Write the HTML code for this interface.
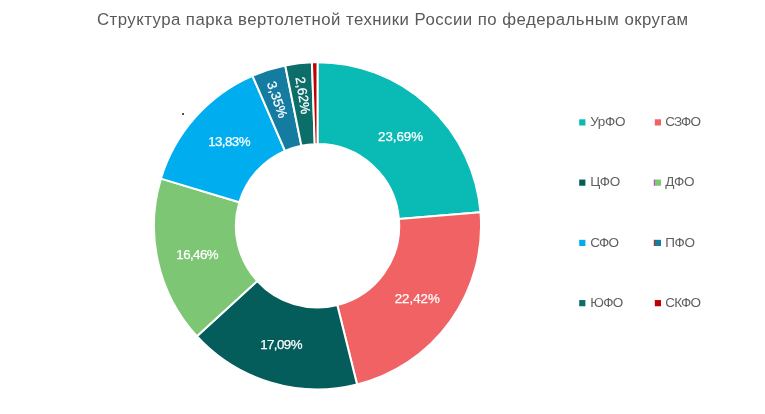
<!DOCTYPE html>
<html><head><meta charset="utf-8"><style>
html,body{margin:0;padding:0;background:#fff;}
body{width:765px;height:414px;overflow:hidden;}
svg{display:block;font-family:"Liberation Sans",sans-serif;}
.t{font-size:16.8px;fill:#595959;}
.dl text{font-size:13.3px;fill:#fff;stroke:#fff;stroke-width:0.25px;}
.lg{font-size:13.5px;fill:#606060;letter-spacing:-0.35px;}
</style></head><body>
<svg width="765" height="414" viewBox="0 0 765 414">
<rect width="765" height="414" fill="#fff"/>
<text class="t" x="392.5" y="25" text-anchor="middle" textLength="591" lengthAdjust="spacing">Структура парка вертолетной техники России по федеральным округам</text>
<g>
<path d="M317.50 62.25A163.55 163.55 0 0 1 480.50 212.35L398.92 219.08A81.7 81.7 0 0 0 317.50 144.10Z" fill="#0ABAB5" stroke="#fff" stroke-width="2" stroke-linejoin="round"/>
<path d="M480.50 212.35A163.55 163.55 0 0 1 357.08 384.49L337.27 305.07A81.7 81.7 0 0 0 398.92 219.08Z" fill="#F06263" stroke="#fff" stroke-width="2" stroke-linejoin="round"/>
<path d="M357.08 384.49A163.55 163.55 0 0 1 196.88 336.25L257.25 280.97A81.7 81.7 0 0 0 337.27 305.07Z" fill="#045D5B" stroke="#fff" stroke-width="2" stroke-linejoin="round"/>
<path d="M196.88 336.25A163.55 163.55 0 0 1 160.91 178.59L239.28 202.22A81.7 81.7 0 0 0 257.25 280.97Z" fill="#7CC674" stroke="#fff" stroke-width="2" stroke-linejoin="round"/>
<path d="M160.91 178.59A163.55 163.55 0 0 1 252.45 75.74L285.01 150.84A81.7 81.7 0 0 0 239.28 202.22Z" fill="#00AEEF" stroke="#fff" stroke-width="2" stroke-linejoin="round"/>
<path d="M252.45 75.74A163.55 163.55 0 0 1 285.24 65.46L301.38 145.71A81.7 81.7 0 0 0 285.01 150.84Z" fill="#147CA0" stroke="#fff" stroke-width="2" stroke-linejoin="round"/>
<path d="M285.24 65.46A163.55 163.55 0 0 1 311.95 62.34L314.73 144.15A81.7 81.7 0 0 0 301.38 145.71Z" fill="#0B6E68" stroke="#fff" stroke-width="2" stroke-linejoin="round"/>
<path d="M311.95 62.34A163.55 163.55 0 0 1 317.50 62.25L317.50 144.10A81.7 81.7 0 0 0 314.73 144.15Z" fill="#C00000" stroke="#fff" stroke-width="2" stroke-linejoin="round"/>
</g>
<g class="dl">
<text x="400.55" y="140.8" text-anchor="middle">23,69%</text>
<text x="417.25" y="303.0" text-anchor="middle">22,42%</text>
<text x="281.05" y="348.7" text-anchor="middle" style="letter-spacing:-0.55px">17,09%</text>
<text x="197.2" y="258.6" text-anchor="middle" style="letter-spacing:-0.55px">16,46%</text>
<text x="229.04999999999998" y="146.2" text-anchor="middle" style="letter-spacing:-0.55px">13,83%</text>
<text transform="translate(277.4 99.6) rotate(71)" x="0" y="4.7" text-anchor="middle">3,35%</text>
<text transform="translate(303.1 95.4) rotate(81)" x="0" y="4.7" text-anchor="middle">2,62%</text>
</g>
<g>
<rect x="579.20" y="119.30" width="6.2" height="6.2" fill="#0ABAB5"/><text x="590.20" y="126.20" class="lg">УрФО</text>
<rect x="654.80" y="119.30" width="6.2" height="6.2" fill="#F06263"/><text x="665.20" y="126.20" class="lg" style="letter-spacing:-0.85px">СЗФО</text>
<rect x="579.20" y="179.55" width="6.2" height="6.2" fill="#045D5B"/><text x="590.20" y="186.45" class="lg">ЦФО</text>
<rect x="653.80" y="179.55" width="1.2" height="6.2" fill="#E020E0"/><rect x="654.80" y="179.55" width="6.2" height="6.2" fill="#7CC674"/><text x="665.20" y="186.45" class="lg" style="letter-spacing:-0.1px">ДФО</text>
<rect x="579.20" y="239.80" width="6.2" height="6.2" fill="#00AEEF"/><text x="590.20" y="246.70" class="lg" style="letter-spacing:-0.9px">СФО</text>
<rect x="653.80" y="239.80" width="1.2" height="6.2" fill="#D02020"/><rect x="654.80" y="239.80" width="6.2" height="6.2" fill="#147CA0"/><text x="665.20" y="246.70" class="lg">ПФО</text>
<rect x="579.20" y="300.05" width="6.2" height="6.2" fill="#0B6E68"/><text x="590.20" y="306.95" class="lg" style="letter-spacing:-0.7px">ЮФО</text>
<rect x="654.80" y="300.05" width="6.2" height="6.2" fill="#C00000"/><text x="665.20" y="306.95" class="lg" style="letter-spacing:-0.7px">СКФО</text>
</g>
<rect x="182.2" y="113.2" width="1.7" height="1.7" fill="#111"/>
</svg>
</body></html>
